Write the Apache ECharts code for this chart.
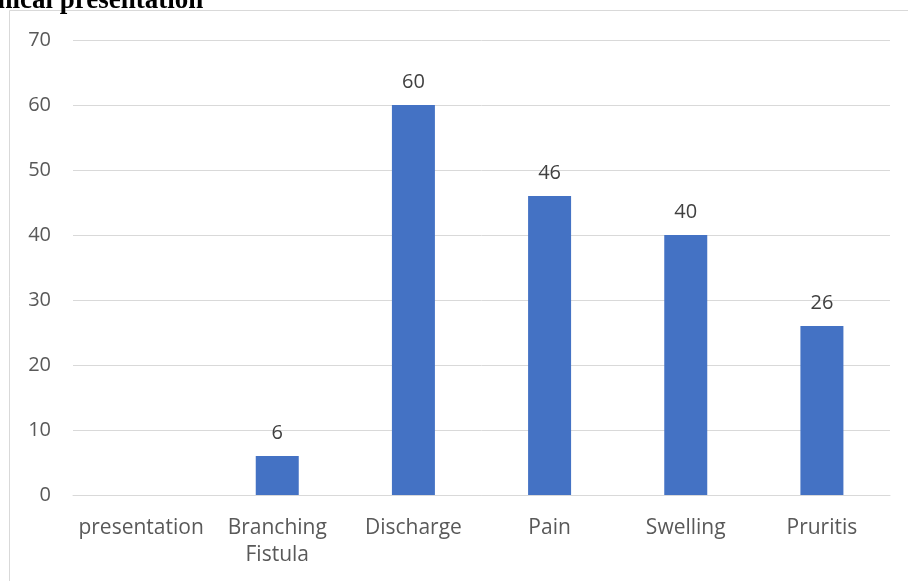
<!DOCTYPE html>
<html>
<head>
<meta charset="utf-8">
<style>
  html, body { margin: 0; padding: 0; background: #fff; }
  #chart { width: 908px; height: 581px; }
</style>
<script src="https://cdn.jsdelivr.net/npm/echarts@6/dist/echarts.min.js"></script>
</head>
<body>
<div id="chart"></div>
<script>
// Clinical presentation counts
const categories = ['presentation', 'Branching\nFistula', 'Discharge', 'Pain', 'Swelling', 'Pruritis'];
const counts = [null, 6, 60, 46, 40, 26];
const yTicks = { min: 0, max: 70, step: 10 };
const titleText = 'Clinical presentation';

const labelFont = '"Open Sans", "Noto Sans", sans-serif';
const textColor = '#595959';
const gridColor = '#d9d9d9';

const chart = echarts.init(document.getElementById('chart'));
chart.setOption({
  animation: false,
  backgroundColor: '#ffffff',
  graphic: [
    {
      type: 'rect',
      shape: { x: 9.5, y: 10.5, width: 1000, height: 1000 },
      style: { fill: 'none', stroke: gridColor, lineWidth: 1 },
      silent: true
    },
    {
      type: 'text',
      left: -37,
      top: -12,
      style: {
        text: titleText,
        font: 'bold 27px "Liberation Serif", "DejaVu Serif", serif',
        fill: '#000000'
      },
      silent: true
    }
  ],
  grid: { left: 73, right: 18, top: 40, bottom: 86 },
  xAxis: {
    type: 'category',
    data: categories,
    axisLine: { lineStyle: { color: gridColor, width: 1 } },
    axisTick: { show: false },
    axisLabel: {
      color: textColor,
      fontFamily: labelFont,
      fontSize: 21,
      lineHeight: 27,
      margin: 20,
      interval: 0
    }
  },
  yAxis: {
    type: 'value',
    min: yTicks.min,
    max: yTicks.max,
    interval: yTicks.step,
    axisLine: { show: false },
    axisTick: { show: false },
    splitLine: { lineStyle: { color: gridColor, width: 1 } },
    axisLabel: {
      color: textColor,
      fontFamily: labelFont,
      fontSize: 20,
      margin: 22
    }
  },
  series: [{
    type: 'bar',
    data: counts,
    barWidth: 43,
    itemStyle: { color: '#4472C4' },
    label: {
      show: true,
      position: 'top',
      distance: 13,
      color: '#404040',
      fontFamily: labelFont,
      fontSize: 20
    }
  }]
});
</script>
</body>
</html>
